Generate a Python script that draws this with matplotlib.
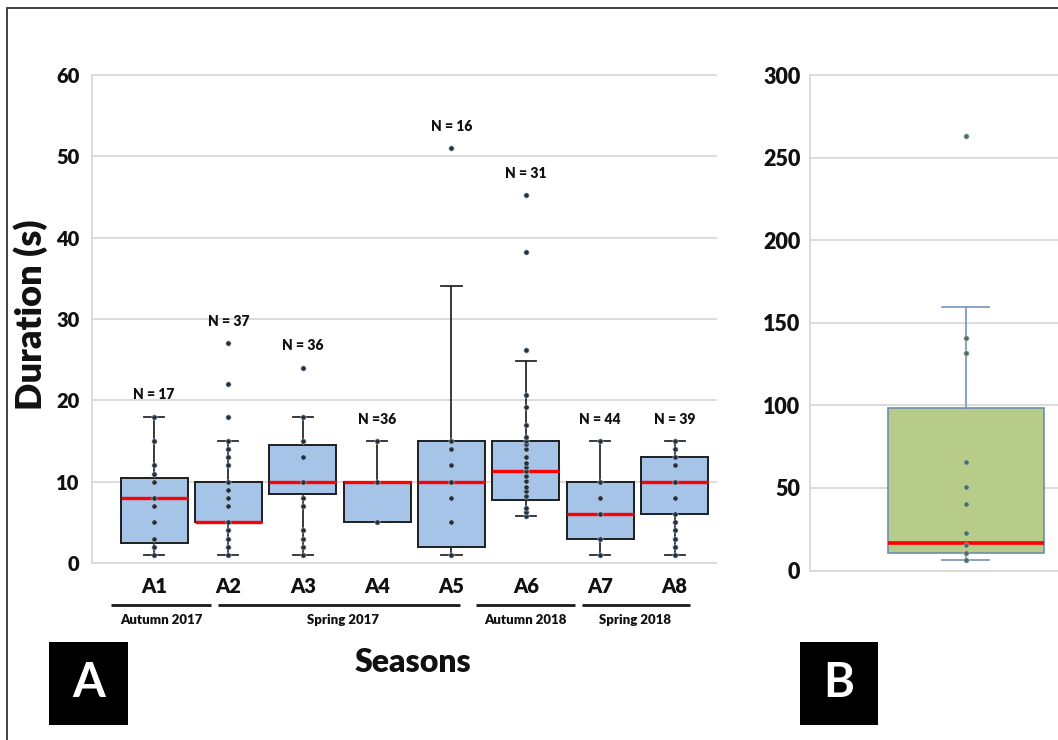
import numpy as np
import matplotlib
matplotlib.use('Agg')
import matplotlib.pyplot as plt
from matplotlib.patches import Rectangle

plt.rcParams['font.family'] = ['Lato', 'DejaVu Sans']

# panel A data - durations per site (s)
sites = ['A1', 'A2', 'A3', 'A4', 'A5', 'A6', 'A7', 'A8']
n_text = ['N = 17', 'N = 37', 'N = 36', 'N =36', 'N = 16', 'N = 31', 'N = 44', 'N = 39']
q1 = [2.5, 5, 8.5, 5, 2, 7.8, 3, 6]
med = [8, 5, 10, 10, 10, 11.3, 6, 10]
q3 = [10.5, 10, 14.5, 10, 15, 15, 10, 13]
whis_lo = [1, 1, 1, 5, 1, 5.8, 1, 1]
whis_hi = [18, 15, 18, 15, 34, 24.8, 15, 15]
outliers = [[], [18, 22, 27], [24], [], [51], [26.2, 38.2, 45.2], [], []]
points = [
    [1, 2, 3, 5, 7, 8, 10, 11, 12, 15, 18],
    [1, 2, 3, 4, 5, 7, 8, 9, 10, 12, 13, 14, 15],
    [1, 2, 3, 4, 7, 8, 10, 13, 15, 18],
    [5, 10, 15],
    [1, 5, 8, 10, 12, 14, 15],
    [5.8, 6.3, 6.8, 8.2, 8.8, 9.4, 10.1, 10.7, 11.3, 11.8, 12.3, 13, 14, 14.6, 15, 15.5, 17, 19.2, 20.6],
    [1, 3, 6, 8, 10, 15],
    [1, 2, 3, 4, 5, 6, 8, 10, 12, 13, 14, 15],
]
seasons = ['Autumn 2017', 'Spring 2017', 'Autumn 2018', 'Spring 2018']

# panel B data
b_q1, b_med, b_q3 = 10.8, 16.9, 98.6
b_lo, b_hi = 6.6, 159.8
b_outliers = [262.8]
b_points = [6.6, 10.8, 15.3, 22.7, 40.4, 50.5, 65.6, 131.6, 140.6]

# layout for the season brackets (data x units)
season_spans = [(0.42, 1.77), (1.86, 5.12), (5.33, 6.66), (6.75, 8.21)]
season_x = [1.1, 3.54, 6.0, 7.47]

grid_col = '#d9d9d9'
text_col = '#111111'
BOLD = 'heavy'

fig = plt.figure(figsize=(10.58, 7.40), dpi=100)

# ---------- panel A ----------
axA = fig.add_axes([0.0870, 0.2392, 0.5898, 0.6595])
pos = np.arange(1, len(sites) + 1)
stats = []
for i in range(len(sites)):
    stats.append(dict(med=med[i], q1=q1[i], q3=q3[i], whislo=whis_lo[i],
                      whishi=whis_hi[i], fliers=outliers[i]))

dot_style = dict(marker='o', markersize=3.8, markerfacecolor='#24303c',
                 markeredgecolor='#c8d3de', markeredgewidth=0.4, linestyle='none')

axA.bxp(stats, positions=pos, widths=0.9, patch_artist=True, capwidths=0.27,
        boxprops=dict(facecolor='#a6c3e8', edgecolor='#1e1e1e', linewidth=1.4),
        medianprops=dict(color='#ff0000', linewidth=2.4, solid_capstyle='butt'),
        whiskerprops=dict(color='#2a2a2a', linewidth=1.3),
        capprops=dict(color='#2a2a2a', linewidth=1.3),
        flierprops=dot_style)
for i, p in enumerate(pos):
    axA.plot([p] * len(points[i]), points[i], zorder=4, **dot_style)
    top = max(points[i] + outliers[i] + [whis_hi[i]])
    axA.text(p, top + 2.7, n_text[i], ha='center', va='center', fontsize=10,
             fontweight=BOLD, color=text_col)

axA.set_xlim(0.166, 8.558)
axA.set_ylim(0, 60)
axA.set_yticks(np.arange(0, 61, 10))
axA.set_xticks(pos, sites)
axA.tick_params(axis='x', length=0, pad=10, labelsize=14.5)
axA.tick_params(axis='y', length=0, pad=9, labelsize=14.5)
for lab in axA.get_xticklabels() + axA.get_yticklabels():
    lab.set_fontweight(BOLD)
    lab.set_color(text_col)
axA.yaxis.grid(True, color=grid_col, linewidth=1.3)
for gl in axA.get_ygridlines():
    gl.set_clip_on(False)
axA.set_axisbelow(True)
for s in ['top', 'right']:
    axA.spines[s].set_visible(False)
for s in ['left', 'bottom']:
    axA.spines[s].set_color(grid_col)
    axA.spines[s].set_linewidth(1.3)

axA.set_ylabel('Duration (s)', fontsize=26, fontweight=BOLD, color=text_col, va='center')
axA.yaxis.set_label_coords(-0.099, 0.508)

tr = axA.get_xaxis_transform()
for (x0, x1), sx, name in zip(season_spans, season_x, seasons):
    axA.plot([x0, x1], [-0.086, -0.086], transform=tr, color='#1a1a1a',
             linewidth=2.0, clip_on=False, solid_capstyle='butt')
    axA.text(sx, -0.117, name, transform=tr, ha='center', va='center',
             fontsize=9.5, fontweight=BOLD, color=text_col)

fig.text(413 / 1058, 1 - 663 / 740, 'Seasons', ha='center', va='center',
         fontsize=23, fontweight=BOLD, color=text_col)

# ---------- panel B ----------
axB = fig.add_axes([0.7656, 0.2290, 0.2344, 0.6696])
axB.bxp([dict(med=b_med, q1=b_q1, q3=b_q3, whislo=b_lo, whishi=b_hi, fliers=b_outliers)],
        positions=[1], widths=1.0, patch_artist=True, capwidths=0.3,
        boxprops=dict(facecolor='#b6cc88', edgecolor='#6f8db0', linewidth=1.2),
        medianprops=dict(color='#ff0000', linewidth=2.6, solid_capstyle='butt'),
        whiskerprops=dict(color='#7f9bbd', linewidth=1.3),
        capprops=dict(color='#7f9bbd', linewidth=1.3),
        flierprops=dict(marker='o', markersize=3.8, markerfacecolor='#4f6e66',
                        markeredgecolor='#c9d6c0', markeredgewidth=0.4, linestyle='none'))
axB.plot([1] * len(b_points), b_points, marker='o', markersize=3.8,
         markerfacecolor='#4f6e66', markeredgecolor='#c9d6c0', markeredgewidth=0.4,
         linestyle='none', zorder=4)
axB.set_xlim(0.002, 1.592)
axB.set_ylim(0, 300)
axB.set_yticks(np.arange(0, 301, 50))
axB.set_xticks([])
axB.tick_params(axis='y', length=0, pad=7, labelsize=15.5)
for lab in axB.get_yticklabels():
    lab.set_fontweight(BOLD)
    lab.set_color(text_col)
axB.yaxis.grid(True, color=grid_col, linewidth=1.3)
for gl in axB.get_ygridlines():
    gl.set_clip_on(False)
axB.set_axisbelow(True)
for s in ['top', 'right']:
    axB.spines[s].set_visible(False)
for s in ['left', 'bottom']:
    axB.spines[s].set_color(grid_col)
    axB.spines[s].set_linewidth(1.3)

# ---------- frame and panel letters ----------
fig.patches.append(Rectangle((7 / 1058, -0.05), 1.1, 1.05 - 8 / 740, transform=fig.transFigure,
                             fill=False, edgecolor='#333333', linewidth=1.3))
for x0, w, letter in [(49, 79, 'A'), (800, 78, 'B')]:
    fig.patches.append(Rectangle((x0 / 1058, 1 - 725 / 740), w / 1058, 83 / 740,
                                 transform=fig.transFigure, facecolor='black', edgecolor='none'))
    fig.text((x0 + w / 2) / 1058, 1 - 683 / 740, letter, ha='center', va='center',
             color='white', fontsize=34, fontweight='bold')

fig.savefig('out.png', dpi=100)
